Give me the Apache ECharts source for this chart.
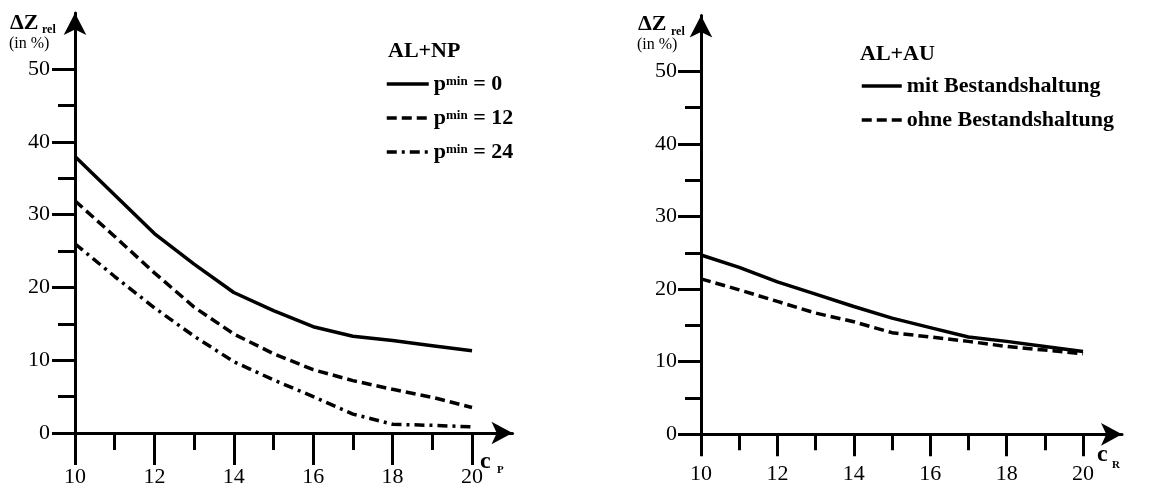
<!DOCTYPE html>
<html><head><meta charset="utf-8">
<script src="https://cdn.jsdelivr.net/npm/echarts@6/dist/echarts.min.js"></script>
<style>html,body{margin:0;padding:0;background:#fff}#c{width:1165px;height:489px}</style>
</head><body><div id="c"></div>
<script>
// ---- data ----
const cValues = [10, 11, 12, 13, 14, 15, 16, 17, 18, 19, 20];
const npPmin0  = [38.0, 32.7, 27.4, 23.2, 19.3, 16.8, 14.6, 13.3, 12.7, 12.0, 11.3];
const npPmin12 = [31.9, 27.0, 22.0, 17.3, 13.6, 10.9, 8.7, 7.2, 6.0, 4.9, 3.5];
const npPmin24 = [26.0, 21.5, 17.2, 13.3, 9.8, 7.3, 5.0, 2.6, 1.2, 1.05, 0.85];
const auMit    = [24.7, 23.0, 21.0, 19.3, 17.6, 16.0, 14.7, 13.4, 12.8, 12.1, 11.4];
const auOhne   = [21.4, 19.9, 18.3, 16.7, 15.5, 14.0, 13.4, 12.8, 12.1, 11.6, 11.1];
const npNames = ['pmin = 0', 'pmin = 12', 'pmin = 24'];
const auNames = ['mit Bestandshaltung', 'ohne Bestandshaltung'];
const xMajorTicks = [10, 12, 14, 16, 18, 20];
const xMinorTicks = [11, 13, 15, 17, 19];
const yMajorTicks = [0, 10, 20, 30, 40, 50];
const yMinorTicks = [5, 15, 25, 35, 45];

const serif = '"Liberation Serif", "Times New Roman", serif';
const pairs = (ys) => cValues.map((c, i) => [c, ys[i]]);
const X_MAX = 21.02, Y_MAX = 57.7;

function mkX(gi, main, tickLen, margin) {
  return {
    type: 'value', gridIndex: gi, min: 10, max: X_MAX, interval: 1,
    splitLine: { show: false },
    axisLine: main ? { show: true, onZero: false, lineStyle: { color: '#000', width: 3 },
      symbol: ['none', 'arrow'], symbolSize: [17, 21] } : { show: false },
    axisTick: { show: true, customValues: main ? xMajorTicks : xMinorTicks, length: tickLen,
      lineStyle: { color: '#000', width: 3 } },
    axisLabel: main ? { show: true, customValues: xMajorTicks, margin: margin, color: '#000',
      fontFamily: serif, fontSize: 22 } : { show: false }
  };
}
function mkY(gi, main, tickLen, margin) {
  return {
    type: 'value', gridIndex: gi, min: 0, max: Y_MAX, interval: 10,
    splitLine: { show: false },
    axisLine: main ? { show: true, onZero: false, lineStyle: { color: '#000', width: 3 },
      symbol: ['none', 'arrow'], symbolSize: [17, 22] } : { show: false },
    axisTick: { show: true, customValues: main ? yMajorTicks : yMinorTicks, length: tickLen,
      lineStyle: { color: '#000', width: 3 } },
    axisLabel: main ? { show: true, customValues: yMajorTicks, margin: margin, color: '#000',
      fontFamily: serif, fontSize: 22 } : { show: false }
  };
}
function line(name, xi, ys, type) {
  return {
    type: 'line', name: name, xAxisIndex: xi, yAxisIndex: xi, data: pairs(ys),
    symbol: 'none', silent: true,
    itemStyle: { color: '#000' },
    lineStyle: { color: '#000', width: 3.5, type: type }
  };
}
const boldText = { fontFamily: serif, fontWeight: 'bold', fontSize: 22, color: '#000' };
const gL = { left: 75, top: 13, width: 437.5, height: 420 };
const gR = { left: 701, top: 15.4, width: 421.0, height: 418.9 };

const option = {
  animation: false,
  backgroundColor: '#fff',
  grid: [gL, gL, gR, gR],
  xAxis: [mkX(0, true, 32, 33), mkX(1, false, 17), mkX(2, true, 22, 29), mkX(3, false, 16)],
  yAxis: [mkY(0, true, 23, 25), mkY(1, false, 17), mkY(2, true, 23, 24), mkY(3, false, 16)],
  legend: [
    {
      data: npNames, orient: 'vertical', left: 385, top: 73, itemWidth: 42, itemHeight: 14,
      itemGap: 12, padding: 0, selectedMode: false,
      itemStyle: { opacity: 0 },
      lineStyle: { width: 3.5 },
      formatter: (n) => '{p|p}{s|min}{p| = ' + n.split('= ')[1] + '}',
      textStyle: { rich: { p: boldText, s: { fontFamily: serif, fontWeight: 'bold', fontSize: 13,
        color: '#000', verticalAlign: 'top', padding: [2, 0, 0, 0] } } }
    },
    {
      data: auNames, orient: 'vertical', left: 860, top: 75, itemWidth: 40, itemHeight: 14,
      itemGap: 12, padding: 0, selectedMode: false,
      itemStyle: { opacity: 0 },
      lineStyle: { width: 3.5 },
      textStyle: boldText
    }
  ],
  graphic: [
    { type: 'text', left: 388, top: 40, style: { text: 'AL+NP', font: 'bold 22px ' + serif, fill: '#000' } },
    { type: 'text', left: 860, top: 43, style: { text: 'AL+AU', font: 'bold 22px ' + serif, fill: '#000' } },
    { type: 'text', left: 10, top: 12, style: { text: 'ΔZ', font: 'bold 22px ' + serif, fill: '#000' } },
    { type: 'text', left: 42, top: 24, style: { text: 'rel', font: 'bold 12px ' + serif, fill: '#000' } },
    { type: 'text', left: 9, top: 36, style: { text: '(in %)', font: '16px ' + serif, fill: '#000' } },
    { type: 'text', left: 638, top: 13, style: { text: 'ΔZ', font: 'bold 22px ' + serif, fill: '#000' } },
    { type: 'text', left: 671, top: 26, style: { text: 'rel', font: 'bold 12px ' + serif, fill: '#000' } },
    { type: 'text', left: 637, top: 37, style: { text: '(in %)', font: '16px ' + serif, fill: '#000' } },
    { type: 'text', left: 480, top: 450, style: { text: 'c', font: 'bold 24px ' + serif, fill: '#000' } },
    { type: 'text', left: 497, top: 465, style: { text: 'P', font: 'bold 11px ' + serif, fill: '#000' } },
    { type: 'text', left: 1097, top: 443, style: { text: 'c', font: 'bold 24px ' + serif, fill: '#000' } },
    { type: 'text', left: 1112, top: 460, style: { text: 'R', font: 'bold 11px ' + serif, fill: '#000' } }
  ],
  series: [
    line(npNames[0], 0, npPmin0, 'solid'),
    line(npNames[1], 0, npPmin12, [10, 5]),
    line(npNames[2], 0, npPmin24, [10, 5, 3, 5]),
    line(auNames[0], 2, auMit, 'solid'),
    line(auNames[1], 2, auOhne, [10, 5])
  ]
};
const chart = echarts.init(document.getElementById('c'));
chart.setOption(option);
</script>
</body></html>
